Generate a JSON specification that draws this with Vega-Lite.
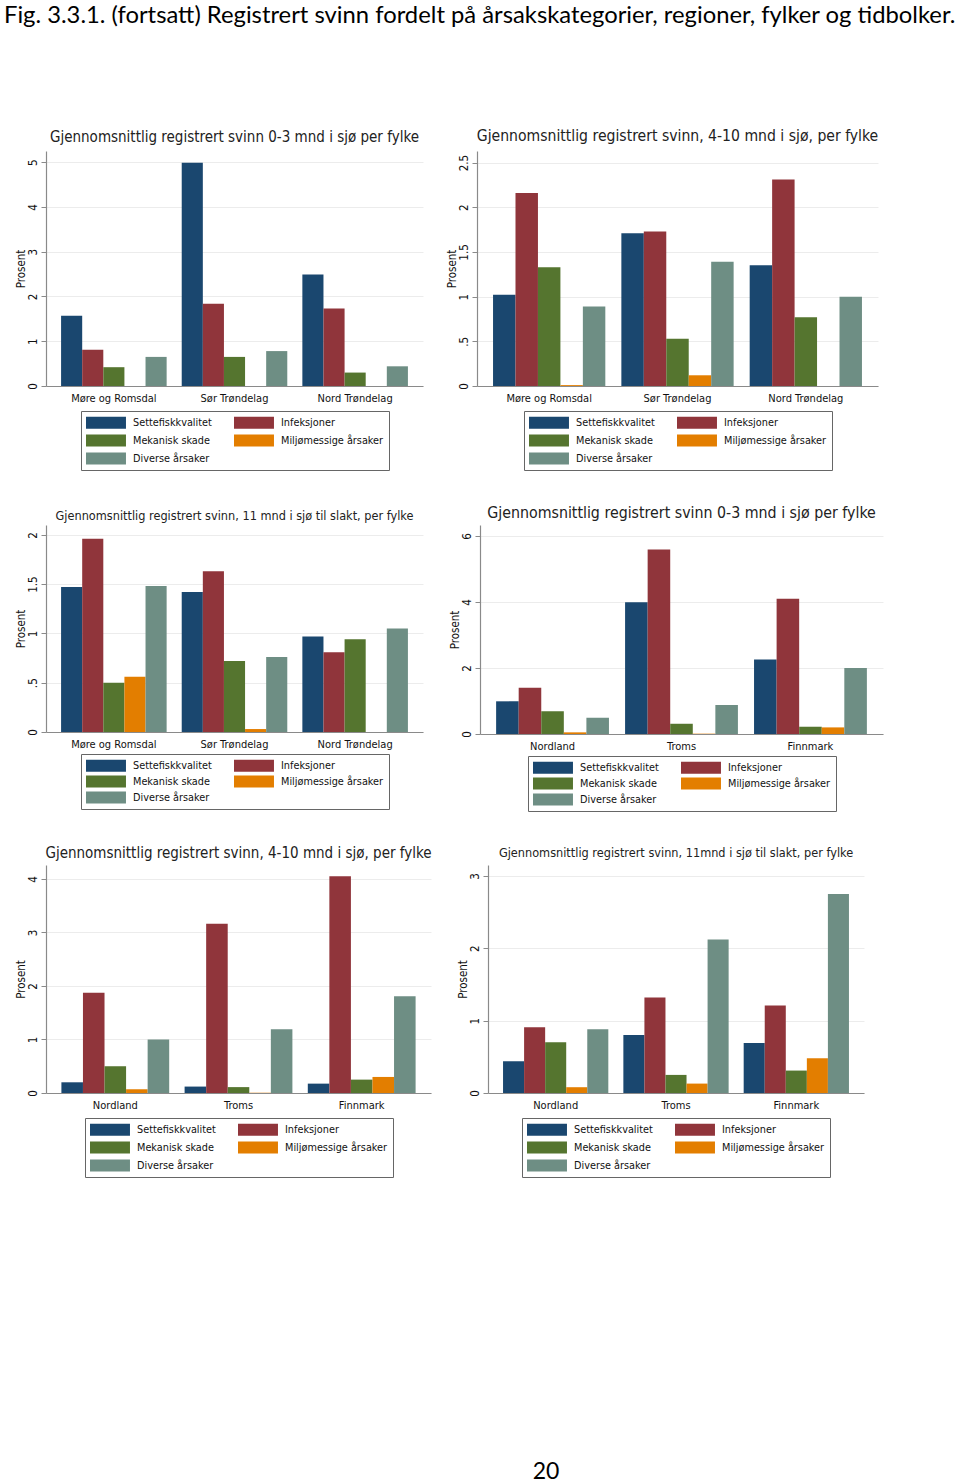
{
  "$schema": "https://vega.github.io/schema/vega-lite/v6.json",
  "background": "white",
  "padding": {"left": 4, "top": 3, "right": 4, "bottom": 4},
  "title": {
    "text": "Fig. 3.3.1. (fortsatt) Registrert svinn fordelt på årsakskategorier, regioner, fylker og tidbolker.",
    "anchor": "start", "frame": "bounds", "font": "Lato", "fontSize": 23.8, "fontWeight": "normal",
    "color": "#000", "offset": 102, "dx": -11
  },
  "datasets": {
    "svinn": [
      {"panel": 1, "region": "Møre og Romsdal", "cause": "Settefiskkvalitet", "value": 1.57},
      {"panel": 1, "region": "Møre og Romsdal", "cause": "Infeksjoner", "value": 0.81},
      {"panel": 1, "region": "Møre og Romsdal", "cause": "Mekanisk skade", "value": 0.42},
      {"panel": 1, "region": "Møre og Romsdal", "cause": "Miljømessige årsaker", "value": 0},
      {"panel": 1, "region": "Møre og Romsdal", "cause": "Diverse årsaker", "value": 0.65},
      {"panel": 1, "region": "Sør Trøndelag", "cause": "Settefiskkvalitet", "value": 4.99},
      {"panel": 1, "region": "Sør Trøndelag", "cause": "Infeksjoner", "value": 1.84},
      {"panel": 1, "region": "Sør Trøndelag", "cause": "Mekanisk skade", "value": 0.65},
      {"panel": 1, "region": "Sør Trøndelag", "cause": "Miljømessige årsaker", "value": 0},
      {"panel": 1, "region": "Sør Trøndelag", "cause": "Diverse årsaker", "value": 0.78},
      {"panel": 1, "region": "Nord Trøndelag", "cause": "Settefiskkvalitet", "value": 2.49},
      {"panel": 1, "region": "Nord Trøndelag", "cause": "Infeksjoner", "value": 1.73},
      {"panel": 1, "region": "Nord Trøndelag", "cause": "Mekanisk skade", "value": 0.30},
      {"panel": 1, "region": "Nord Trøndelag", "cause": "Miljømessige årsaker", "value": 0},
      {"panel": 1, "region": "Nord Trøndelag", "cause": "Diverse årsaker", "value": 0.44},

      {"panel": 2, "region": "Møre og Romsdal", "cause": "Settefiskkvalitet", "value": 1.02},
      {"panel": 2, "region": "Møre og Romsdal", "cause": "Infeksjoner", "value": 2.16},
      {"panel": 2, "region": "Møre og Romsdal", "cause": "Mekanisk skade", "value": 1.33},
      {"panel": 2, "region": "Møre og Romsdal", "cause": "Miljømessige årsaker", "value": 0.01},
      {"panel": 2, "region": "Møre og Romsdal", "cause": "Diverse årsaker", "value": 0.89},
      {"panel": 2, "region": "Sør Trøndelag", "cause": "Settefiskkvalitet", "value": 1.71},
      {"panel": 2, "region": "Sør Trøndelag", "cause": "Infeksjoner", "value": 1.73},
      {"panel": 2, "region": "Sør Trøndelag", "cause": "Mekanisk skade", "value": 0.53},
      {"panel": 2, "region": "Sør Trøndelag", "cause": "Miljømessige årsaker", "value": 0.12},
      {"panel": 2, "region": "Sør Trøndelag", "cause": "Diverse årsaker", "value": 1.39},
      {"panel": 2, "region": "Nord Trøndelag", "cause": "Settefiskkvalitet", "value": 1.35},
      {"panel": 2, "region": "Nord Trøndelag", "cause": "Infeksjoner", "value": 2.31},
      {"panel": 2, "region": "Nord Trøndelag", "cause": "Mekanisk skade", "value": 0.77},
      {"panel": 2, "region": "Nord Trøndelag", "cause": "Miljømessige årsaker", "value": 0},
      {"panel": 2, "region": "Nord Trøndelag", "cause": "Diverse årsaker", "value": 1.00},

      {"panel": 3, "region": "Møre og Romsdal", "cause": "Settefiskkvalitet", "value": 1.47},
      {"panel": 3, "region": "Møre og Romsdal", "cause": "Infeksjoner", "value": 1.96},
      {"panel": 3, "region": "Møre og Romsdal", "cause": "Mekanisk skade", "value": 0.50},
      {"panel": 3, "region": "Møre og Romsdal", "cause": "Miljømessige årsaker", "value": 0.56},
      {"panel": 3, "region": "Møre og Romsdal", "cause": "Diverse årsaker", "value": 1.48},
      {"panel": 3, "region": "Sør Trøndelag", "cause": "Settefiskkvalitet", "value": 1.42},
      {"panel": 3, "region": "Sør Trøndelag", "cause": "Infeksjoner", "value": 1.63},
      {"panel": 3, "region": "Sør Trøndelag", "cause": "Mekanisk skade", "value": 0.72},
      {"panel": 3, "region": "Sør Trøndelag", "cause": "Miljømessige årsaker", "value": 0.03},
      {"panel": 3, "region": "Sør Trøndelag", "cause": "Diverse årsaker", "value": 0.76},
      {"panel": 3, "region": "Nord Trøndelag", "cause": "Settefiskkvalitet", "value": 0.97},
      {"panel": 3, "region": "Nord Trøndelag", "cause": "Infeksjoner", "value": 0.81},
      {"panel": 3, "region": "Nord Trøndelag", "cause": "Mekanisk skade", "value": 0.94},
      {"panel": 3, "region": "Nord Trøndelag", "cause": "Miljømessige årsaker", "value": 0},
      {"panel": 3, "region": "Nord Trøndelag", "cause": "Diverse årsaker", "value": 1.05},

      {"panel": 4, "region": "Nordland", "cause": "Settefiskkvalitet", "value": 0.99},
      {"panel": 4, "region": "Nordland", "cause": "Infeksjoner", "value": 1.40},
      {"panel": 4, "region": "Nordland", "cause": "Mekanisk skade", "value": 0.69},
      {"panel": 4, "region": "Nordland", "cause": "Miljømessige årsaker", "value": 0.05},
      {"panel": 4, "region": "Nordland", "cause": "Diverse årsaker", "value": 0.49},
      {"panel": 4, "region": "Troms", "cause": "Settefiskkvalitet", "value": 3.99},
      {"panel": 4, "region": "Troms", "cause": "Infeksjoner", "value": 5.59},
      {"panel": 4, "region": "Troms", "cause": "Mekanisk skade", "value": 0.31},
      {"panel": 4, "region": "Troms", "cause": "Miljømessige årsaker", "value": 0.01},
      {"panel": 4, "region": "Troms", "cause": "Diverse årsaker", "value": 0.88},
      {"panel": 4, "region": "Finnmark", "cause": "Settefiskkvalitet", "value": 2.26},
      {"panel": 4, "region": "Finnmark", "cause": "Infeksjoner", "value": 4.10},
      {"panel": 4, "region": "Finnmark", "cause": "Mekanisk skade", "value": 0.22},
      {"panel": 4, "region": "Finnmark", "cause": "Miljømessige årsaker", "value": 0.20},
      {"panel": 4, "region": "Finnmark", "cause": "Diverse årsaker", "value": 2.00},

      {"panel": 5, "region": "Nordland", "cause": "Settefiskkvalitet", "value": 0.20},
      {"panel": 5, "region": "Nordland", "cause": "Infeksjoner", "value": 1.875},
      {"panel": 5, "region": "Nordland", "cause": "Mekanisk skade", "value": 0.50},
      {"panel": 5, "region": "Nordland", "cause": "Miljømessige årsaker", "value": 0.07},
      {"panel": 5, "region": "Nordland", "cause": "Diverse årsaker", "value": 1.00},
      {"panel": 5, "region": "Troms", "cause": "Settefiskkvalitet", "value": 0.12},
      {"panel": 5, "region": "Troms", "cause": "Infeksjoner", "value": 3.16},
      {"panel": 5, "region": "Troms", "cause": "Mekanisk skade", "value": 0.11},
      {"panel": 5, "region": "Troms", "cause": "Miljømessige årsaker", "value": 0.005},
      {"panel": 5, "region": "Troms", "cause": "Diverse årsaker", "value": 1.19},
      {"panel": 5, "region": "Finnmark", "cause": "Settefiskkvalitet", "value": 0.175},
      {"panel": 5, "region": "Finnmark", "cause": "Infeksjoner", "value": 4.05},
      {"panel": 5, "region": "Finnmark", "cause": "Mekanisk skade", "value": 0.25},
      {"panel": 5, "region": "Finnmark", "cause": "Miljømessige årsaker", "value": 0.30},
      {"panel": 5, "region": "Finnmark", "cause": "Diverse årsaker", "value": 1.81},

      {"panel": 6, "region": "Nordland", "cause": "Settefiskkvalitet", "value": 0.44},
      {"panel": 6, "region": "Nordland", "cause": "Infeksjoner", "value": 0.91},
      {"panel": 6, "region": "Nordland", "cause": "Mekanisk skade", "value": 0.70},
      {"panel": 6, "region": "Nordland", "cause": "Miljømessige årsaker", "value": 0.08},
      {"panel": 6, "region": "Nordland", "cause": "Diverse årsaker", "value": 0.88},
      {"panel": 6, "region": "Troms", "cause": "Settefiskkvalitet", "value": 0.80},
      {"panel": 6, "region": "Troms", "cause": "Infeksjoner", "value": 1.32},
      {"panel": 6, "region": "Troms", "cause": "Mekanisk skade", "value": 0.25},
      {"panel": 6, "region": "Troms", "cause": "Miljømessige årsaker", "value": 0.13},
      {"panel": 6, "region": "Troms", "cause": "Diverse årsaker", "value": 2.12},
      {"panel": 6, "region": "Finnmark", "cause": "Settefiskkvalitet", "value": 0.69},
      {"panel": 6, "region": "Finnmark", "cause": "Infeksjoner", "value": 1.21},
      {"panel": 6, "region": "Finnmark", "cause": "Mekanisk skade", "value": 0.31},
      {"panel": 6, "region": "Finnmark", "cause": "Miljømessige årsaker", "value": 0.48},
      {"panel": 6, "region": "Finnmark", "cause": "Diverse årsaker", "value": 2.75}
    ]
  },
  "data": {"name": "svinn"},
  "vconcat": [
    {
      "vconcat": [
        {
          "hconcat": [
            {
              "title": {"text": "Gjennomsnittlig registrert svinn 0-3 mnd i sjø per fylke", "fontSize": 15},
              "width": 377, "height": 235,
              "transform": [{"filter": "datum.panel == 1"}],
              "mark": {"type": "bar"},
              "encoding": {
                "x": {"field": "region", "type": "nominal", "sort": null, "scale": {"paddingInner": 0.125, "paddingOuter": 0.125}},
                "xOffset": {"field": "cause", "type": "nominal", "scale": {"domain": ["Settefiskkvalitet", "Infeksjoner", "Mekanisk skade", "Miljømessige årsaker", "Diverse årsaker"], "paddingInner": 0, "paddingOuter": 0}},
                "y": {"field": "value", "type": "quantitative", "title": "Prosent", "scale": {"domain": [0, 5.25], "nice": false}, "axis": {"values": [0, 1, 2, 3, 4, 5]}},
                "color": {"field": "cause", "type": "nominal", "scale": {"domain": ["Settefiskkvalitet", "Infeksjoner", "Mekanisk skade", "Miljømessige årsaker", "Diverse årsaker"], "range": ["#1a476f", "#90353b", "#55752f", "#e37e00", "#6e8e84"]}}
              }
            },
            {
              "title": {"text": "Gjennomsnittlig registrert svinn, 4-10 mnd i sjø, per fylke", "fontSize": 15.6},
              "width": 401, "height": 235,
              "transform": [{"filter": "datum.panel == 2"}],
              "mark": {"type": "bar"},
              "encoding": {
                "x": {"field": "region", "type": "nominal", "sort": null, "scale": {"paddingInner": 0.125, "paddingOuter": 0.125}},
                "xOffset": {"field": "cause", "type": "nominal", "scale": {"domain": ["Settefiskkvalitet", "Infeksjoner", "Mekanisk skade", "Miljømessige årsaker", "Diverse årsaker"], "paddingInner": 0, "paddingOuter": 0}},
                "y": {"field": "value", "type": "quantitative", "title": "Prosent", "scale": {"domain": [0, 2.63], "nice": false}, "axis": {"values": [0, 0.5, 1, 1.5, 2, 2.5]}},
                "color": {"field": "cause", "type": "nominal", "scale": {"domain": ["Settefiskkvalitet", "Infeksjoner", "Mekanisk skade", "Miljømessige årsaker", "Diverse årsaker"], "range": ["#1a476f", "#90353b", "#55752f", "#e37e00", "#6e8e84"]}}
              }
            }
          ],
          "spacing": 23,
          "resolve": {"scale": {"x": "independent", "y": "independent", "xOffset": "independent", "color": "independent"}}
        },
        {
          "hconcat": [
            {
              "title": {"text": "Gjennomsnittlig registrert svinn, 11 mnd i sjø til slakt, per fylke", "fontSize": 12.6, "offset": 2},
              "width": 377, "height": 207,
              "transform": [{"filter": "datum.panel == 3"}],
              "mark": {"type": "bar"},
              "encoding": {
                "x": {"field": "region", "type": "nominal", "sort": null, "scale": {"paddingInner": 0.125, "paddingOuter": 0.125}},
                "xOffset": {"field": "cause", "type": "nominal", "scale": {"domain": ["Settefiskkvalitet", "Infeksjoner", "Mekanisk skade", "Miljømessige årsaker", "Diverse årsaker"], "paddingInner": 0, "paddingOuter": 0}},
                "y": {"field": "value", "type": "quantitative", "title": "Prosent", "scale": {"domain": [0, 2.1], "nice": false}, "axis": {"values": [0, 0.5, 1, 1.5, 2]}},
                "color": {"field": "cause", "type": "nominal", "scale": {"domain": ["Settefiskkvalitet", "Infeksjoner", "Mekanisk skade", "Miljømessige årsaker", "Diverse årsaker"], "range": ["#1a476f", "#90353b", "#55752f", "#e37e00", "#6e8e84"]}, "legend": {"rowPadding": 3, "offset": 5}}
              }
            },
            {
              "title": {"text": "Gjennomsnittlig registrert svinn 0-3 mnd i sjø per fylke", "fontSize": 15.8, "offset": 3},
              "width": 403, "height": 209,
              "transform": [{"filter": "datum.panel == 4"}],
              "mark": {"type": "bar"},
              "encoding": {
                "x": {"field": "region", "type": "nominal", "sort": null, "scale": {"paddingInner": 0.125, "paddingOuter": 0.125}},
                "xOffset": {"field": "cause", "type": "nominal", "scale": {"domain": ["Settefiskkvalitet", "Infeksjoner", "Mekanisk skade", "Miljømessige årsaker", "Diverse årsaker"], "paddingInner": 0, "paddingOuter": 0}},
                "y": {"field": "value", "type": "quantitative", "title": "Prosent", "scale": {"domain": [0, 6.33], "nice": false}, "axis": {"values": [0, 2, 4, 6]}},
                "color": {"field": "cause", "type": "nominal", "scale": {"domain": ["Settefiskkvalitet", "Infeksjoner", "Mekanisk skade", "Miljømessige årsaker", "Diverse årsaker"], "range": ["#1a476f", "#90353b", "#55752f", "#e37e00", "#6e8e84"]}, "legend": {"rowPadding": 3, "offset": 5}}
              }
            }
          ],
          "spacing": 26,
          "resolve": {"scale": {"x": "independent", "y": "independent", "xOffset": "independent", "color": "independent"}}
        },
        {
          "hconcat": [
            {
              "title": {"text": "Gjennomsnittlig registrert svinn, 4-10 mnd i sjø, per fylke", "fontSize": 15, "offset": 4},
              "width": 385, "height": 228,
              "transform": [{"filter": "datum.panel == 5"}],
              "mark": {"type": "bar"},
              "encoding": {
                "x": {"field": "region", "type": "nominal", "sort": null, "scale": {"paddingInner": 0.125, "paddingOuter": 0.125}},
                "xOffset": {"field": "cause", "type": "nominal", "scale": {"domain": ["Settefiskkvalitet", "Infeksjoner", "Mekanisk skade", "Miljømessige årsaker", "Diverse årsaker"], "paddingInner": 0, "paddingOuter": 0}},
                "y": {"field": "value", "type": "quantitative", "title": "Prosent", "scale": {"domain": [0, 4.26], "nice": false}, "axis": {"values": [0, 1, 2, 3, 4]}},
                "color": {"field": "cause", "type": "nominal", "scale": {"domain": ["Settefiskkvalitet", "Infeksjoner", "Mekanisk skade", "Miljømessige årsaker", "Diverse årsaker"], "range": ["#1a476f", "#90353b", "#55752f", "#e37e00", "#6e8e84"]}}
              }
            },
            {
              "title": {"text": "Gjennomsnittlig registrert svinn, 11mnd i sjø til slakt, per fylke", "fontSize": 12.6, "offset": 5},
              "width": 376, "height": 228,
              "transform": [{"filter": "datum.panel == 6"}],
              "mark": {"type": "bar"},
              "encoding": {
                "x": {"field": "region", "type": "nominal", "sort": null, "scale": {"paddingInner": 0.125, "paddingOuter": 0.125}},
                "xOffset": {"field": "cause", "type": "nominal", "scale": {"domain": ["Settefiskkvalitet", "Infeksjoner", "Mekanisk skade", "Miljømessige årsaker", "Diverse årsaker"], "paddingInner": 0, "paddingOuter": 0}},
                "y": {"field": "value", "type": "quantitative", "title": "Prosent", "scale": {"domain": [0, 3.15], "nice": false}, "axis": {"values": [0, 1, 2, 3]}},
                "color": {"field": "cause", "type": "nominal", "scale": {"domain": ["Settefiskkvalitet", "Infeksjoner", "Mekanisk skade", "Miljømessige årsaker", "Diverse årsaker"], "range": ["#1a476f", "#90353b", "#55752f", "#e37e00", "#6e8e84"]}}
              }
            }
          ],
          "spacing": 25,
          "resolve": {"scale": {"x": "independent", "y": "independent", "xOffset": "independent", "color": "independent"}}
        }
      ],
      "spacing": 34,
      "resolve": {"scale": {"x": "independent", "y": "independent", "xOffset": "independent", "color": "independent"}}
    },
    {
      "hconcat": [
        {"width": 410, "height": 20, "data": {"values": []}, "mark": {"type": "text"}},
        {
          "width": 180, "height": 20,
          "data": {"values": [{"page": "20"}]},
          "mark": {"type": "text", "font": "Lato", "fontSize": 23, "color": "#000"},
          "encoding": {"text": {"field": "page", "type": "nominal"}}
        }
      ],
      "spacing": 0
    }
  ],
  "spacing": 283,
  "resolve": {"scale": {"x": "independent", "y": "independent", "xOffset": "independent", "color": "independent"}},
  "config": {
    "view": {"stroke": null},
    "font": "DejaVu Sans Condensed, Liberation Sans, sans-serif",
    "title": {"font": "DejaVu Sans Condensed, Liberation Sans, sans-serif", "fontWeight": "normal", "color": "#222", "anchor": "middle", "offset": 6},
    "axis": {
      "labelFont": "DejaVu Sans Condensed, Liberation Sans, sans-serif", "titleFont": "DejaVu Sans Condensed, Liberation Sans, sans-serif",
      "labelColor": "#111", "titleColor": "#111", "domainColor": "#8a8a8a", "tickColor": "#8a8a8a",
      "gridColor": "#ececec", "titleFontWeight": "normal"
    },
    "axisX": {"ticks": false, "labelPadding": 6, "title": null, "labelAngle": 0, "grid": false, "labelFontSize": 11, "domainWidth": 1.2},
    "axisY": {
      "labelAngle": -90, "labelAlign": "center", "labelBaseline": "bottom", "tickSize": 5, "labelPadding": 3,
      "grid": true, "titleFontSize": 11.5, "labelFontSize": 11.5, "titlePadding": 1,
      "labelExpr": "replace(toString(datum.value), '0.', '.')", "domainWidth": 1.2
    },
    "legend": {
      "orient": "bottom", "direction": "horizontal", "columns": 2, "title": null,
      "symbolType": "M-1,-0.92H5.15V0.92H-1Z", "symbolSize": 169, "symbolStrokeWidth": 0, "symbolOpacity": 1,
      "labelFont": "DejaVu Sans Condensed, Liberation Sans, sans-serif", "labelFontSize": 10.8, "labelColor": "#111", "labelOffset": 34,
      "strokeColor": "#666", "fillColor": "white", "padding": 5, "rowPadding": 5, "columnPadding": 22, "offset": 8,
      "layout": {"bottom": {"anchor": "middle"}}
    }
  }
}
